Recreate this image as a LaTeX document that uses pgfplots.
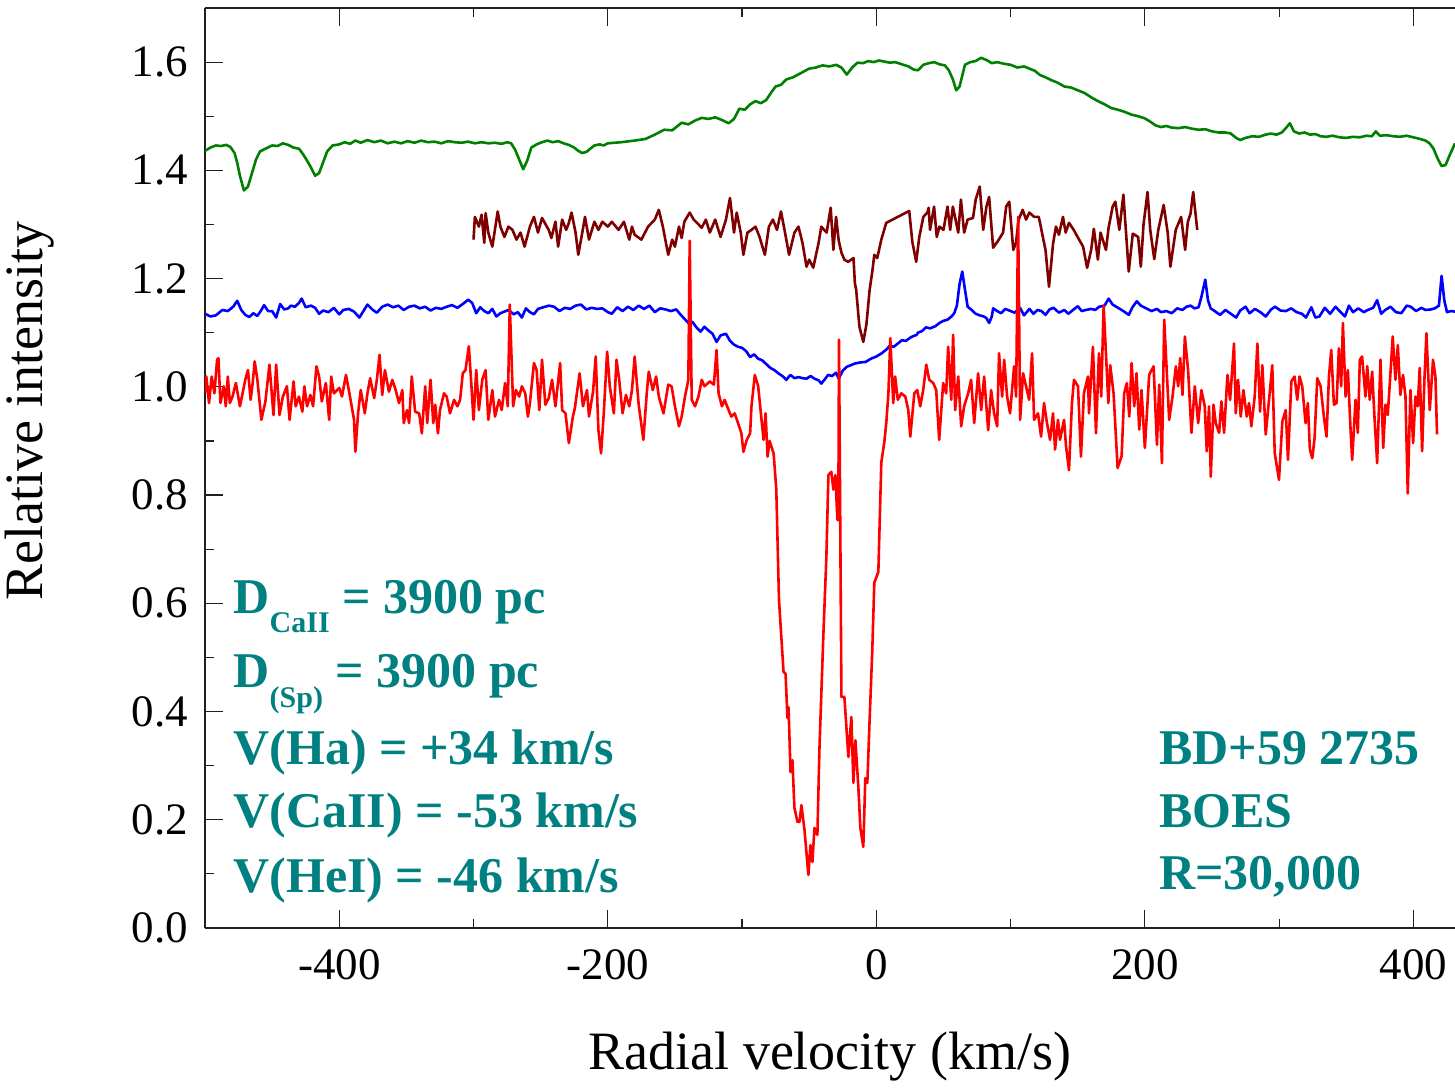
\documentclass[border=0pt]{standalone}
\usepackage{fontspec}
\setmainfont{Liberation Serif}
\usepackage{pgfplots}
\pgfplotsset{compat=1.18}
\definecolor{tealc}{RGB}{0,128,128}
\definecolor{dgreen}{RGB}{0,128,0}
\definecolor{dbrown}{RGB}{128,0,0}
\definecolor{axgray}{RGB}{32,32,32}
\begin{document}
\begin{tikzpicture}
\begin{axis}[
  at={(0pt,0pt)}, anchor=south west,
  scale only axis, width=625pt, height=460pt,
  xmin=-500, xmax=431, ymin=0, ymax=1.7,
  axis x line*=box, axis y line*=left,
  axis line style={axgray, line width=1pt},
  tick align=inside,
  major tick length=9pt, minor tick length=4.5pt,
  every tick/.style={axgray, line width=0.6pt},
  xtick={-400,-200,0,200,400},
  xticklabels={-400,-200,0,200,400},
  minor xtick={-300,-100,100,300},
  ytick={0,0.2,0.4,0.6,0.8,1.0,1.2,1.4,1.6},
  yticklabels={0.0,0.2,0.4,0.6,0.8,1.0,1.2,1.4,1.6},
  minor ytick={0.1,0.3,0.5,0.7,0.9,1.1,1.3,1.5},
  ticklabel style={font=\fontsize{22.5}{22.5}\selectfont},
  xticklabel style={yshift=-7pt},
  yticklabel style={xshift=-5pt},
  xlabel={Radial velocity (km/s)},
  ylabel={Relative intensity},
  label style={font=\fontsize{27}{27}\selectfont},
  xlabel style={at={(rel axis cs:0.5,-0.14)}, anchor=center},
  ylabel style={at={(rel axis cs:-0.14,0.562)}, anchor=center},
  no markers,
  every axis plot/.append style={line width=1.3pt, line join=round},
  clip=true,
]
% green
\addplot[dgreen] coordinates {
(-500,1.436) (-496,1.442) (-492,1.446) (-488,1.445) (-484,1.447) (-481,1.443) (-478,1.432) (-476,1.414) (-474,1.390) (-471,1.363) (-468,1.370) (-465,1.395) (-462,1.420) (-459,1.435) (-455,1.440) (-450,1.446) (-446,1.445) (-442,1.450) (-438,1.447) (-434,1.442) (-430,1.440) (-427,1.430) (-424,1.418) (-421,1.405) (-418,1.390) (-415,1.395) (-412,1.415) (-409,1.435) (-405,1.446) (-400,1.448) (-396,1.452) (-392,1.449) (-388,1.455) (-384,1.451) (-379,1.456) (-374,1.452) (-369,1.455) (-364,1.450) (-359,1.453) (-354,1.450) (-349,1.454) (-344,1.451) (-339,1.455) (-334,1.452) (-329,1.453) (-324,1.450) (-319,1.454) (-314,1.452) (-309,1.451) (-304,1.453) (-299,1.450) (-294,1.452) (-289,1.450) (-284,1.451) (-279,1.449) (-275,1.452) (-272,1.450) (-269,1.438) (-266,1.420) (-263,1.402) (-260,1.418) (-257,1.442) (-253,1.448) (-249,1.452) (-245,1.455) (-241,1.452) (-237,1.454) (-233,1.450) (-229,1.447) (-225,1.442) (-222,1.436) (-219,1.432) (-216,1.434) (-213,1.440) (-210,1.446) (-206,1.448) (-203,1.446)
(-200,1.450) (-190,1.452) (-180,1.455) (-172,1.458) (-165,1.466) (-158,1.475) (-152,1.474) (-145,1.488) (-140,1.485) (-135,1.492) (-130,1.497) (-125,1.495) (-120,1.498) (-115,1.493) (-110,1.487) (-106,1.495) (-102,1.514) (-98,1.512) (-94,1.522) (-90,1.528) (-86,1.524) (-82,1.530) (-78,1.545) (-75,1.555) (-71,1.558) (-67,1.568) (-62,1.572) (-56,1.580) (-50,1.588) (-45,1.590) (-40,1.594) (-35,1.592) (-30,1.595) (-26,1.590) (-22,1.577) (-18,1.590) (-14,1.599) (-10,1.598) (-6,1.602) (-2,1.600) (2,1.603) (6,1.601) (10,1.599) (14,1.600) (19,1.596) (24,1.592) (28,1.586) (31,1.585) (35,1.595) (39,1.598) (43,1.600) (47,1.596) (51,1.594) (54,1.585) (57,1.568) (59.5,1.548) (62,1.555) (64,1.575) (66,1.595) (70,1.600) (74,1.602) (78,1.608) (82,1.604) (86,1.598) (90,1.600) (95,1.597) (100,1.595) (105,1.590) (110,1.592) (114,1.588) (118,1.584) (122,1.576) (126,1.572) (130,1.567) (135,1.562) (140,1.555) (145,1.553) (150,1.548) (155,1.543) (160,1.535) (165,1.528) (170,1.522) (175,1.515) (180,1.512) (185,1.508) (190,1.503) (195,1.500) (200,1.496) (204,1.490) (208,1.483) (212,1.480) (216,1.482) (220,1.479) (225,1.478) (230,1.480) (235,1.477) (240,1.475) (245,1.476) (250,1.472) (255,1.470) (260,1.470) (264,1.468) (268,1.460) (271,1.456) (275,1.460) (280,1.463) (285,1.462) (290,1.466) (294,1.468) (298,1.466) (302,1.470) (305,1.478) (308,1.487) (311,1.472) (315,1.468) (319,1.470) (323,1.466) (327,1.467) (331,1.463) (335,1.462) (340,1.464) (345,1.461) (350,1.460) (355,1.462) (360,1.461) (365,1.464) (369,1.463) (372,1.472) (375,1.464) (380,1.465) (385,1.463) (390,1.462) (395,1.464) (400,1.461) (405,1.458) (409,1.455) (412,1.450) (415,1.440) (418,1.422) (421,1.408) (424,1.410) (427,1.428) (431,1.450)
};
% brown
\addplot[dbrown] coordinates {
(-300,1.272) (-299,1.314) (-296,1.296) (-294,1.318) (-292,1.266) (-291,1.321) (-289,1.285) (-286,1.259) (-282,1.324) (-280,1.296) (-277,1.277) (-274,1.296) (-271,1.290) (-268,1.272) (-265,1.285) (-262,1.259) (-258,1.296) (-255,1.314) (-252,1.285) (-249,1.312) (-244,1.290) (-242,1.275) (-239,1.305) (-237,1.259) (-234,1.309) (-231,1.290) (-229,1.303) (-227,1.322) (-224,1.285) (-222,1.244) (-219,1.285) (-217,1.314) (-214,1.272) (-210,1.305) (-207,1.290) (-204,1.305) (-200,1.296) (-197,1.305) (-192,1.290) (-188,1.305) (-184,1.272) (-182,1.296) (-180,1.281) (-175,1.272) (-170,1.296) (-165,1.309) (-162,1.327) (-159,1.296) (-155,1.244) (-152,1.272) (-150,1.259) (-147,1.296) (-145,1.275) (-143,1.305) (-139,1.322) (-136,1.309) (-130,1.294) (-127,1.309) (-124,1.285) (-120,1.309) (-116,1.277) (-112,1.309) (-109,1.349) (-106,1.285) (-104,1.322) (-101,1.285) (-99,1.244) (-96,1.285) (-93,1.290) (-90,1.296) (-87,1.277) (-83,1.244) (-80,1.296) (-77,1.309) (-74,1.290) (-71,1.324) (-68,1.285) (-65,1.244) (-61,1.285) (-58,1.296) (-55,1.266) (-52,1.222) (-50,1.235) (-47,1.220) (-43,1.266) (-41,1.296) (-37,1.285) (-34,1.331) (-32,1.253) (-30,1.314) (-28,1.270) (-26,1.248) (-23.8,1.235) (-21,1.231) (-17,1.238) (-16,1.192) (-15,1.179) (-12.6,1.111) (-9.7,1.083) (-7.4,1.115) (-5,1.179) (-3,1.213) (-1.5,1.244) (0.7,1.238) (3.7,1.272) (7.4,1.303) (24.5,1.325) (26.8,1.268) (29.7,1.231) (32,1.277) (35,1.314) (38,1.322) (39,1.331) (40,1.290) (43,1.333) (45,1.277) (47,1.296) (50,1.290) (53,1.333) (55,1.290) (57,1.333) (61,1.285) (63,1.346) (65.4,1.285) (68,1.309) (72,1.312) (74,1.346) (77,1.370) (79.6,1.290) (82,1.333) (84,1.351) (87,1.257) (90.7,1.270) (94.4,1.285) (96.7,1.333) (99,1.342) (102,1.253) (104,1.266) (106,1.309) (109,1.327) (111.5,1.309) (114,1.322) (117.5,1.314) (121,1.314) (124,1.277) (126,1.253) (128.6,1.185) (131.6,1.264) (133.8,1.296) (136,1.281) (139,1.314) (141,1.285) (143.5,1.303) (147,1.290) (151,1.272) (154,1.259) (157,1.220) (160,1.253) (162,1.292) (165,1.235) (167,1.285) (171,1.253) (173,1.294) (176,1.333) (178,1.342) (181,1.290) (184,1.355) (188,1.213) (191,1.283) (195,1.277) (197,1.222) (199,1.300) (202,1.360) (204,1.290) (207,1.236) (210,1.290) (214,1.336) (217,1.285) (219,1.222) (223,1.290) (227,1.314) (230,1.253) (232,1.305) (234,1.320) (236,1.360) (239,1.290)
};
% blue
\addplot[blue] coordinates {
(-500,1.135) (-496,1.130) (-492,1.132) (-487,1.142) (-483,1.140) (-479,1.148) (-476,1.159) (-473,1.142) (-470,1.133) (-467,1.129) (-464,1.136) (-461,1.131) (-458,1.142) (-456,1.151) (-453,1.140) (-450,1.140) (-447,1.128) (-444,1.153) (-441,1.143) (-438,1.145) (-436,1.150) (-433,1.148) (-430,1.155) (-428,1.163) (-425,1.147) (-421,1.150) (-418,1.146) (-415,1.135) (-412,1.141) (-408,1.138) (-404,1.146) (-400,1.134) (-397,1.142) (-393,1.144) (-389,1.139) (-385,1.128) (-382,1.140) (-379,1.152) (-375,1.142) (-372,1.137) (-368,1.148) (-364,1.152) (-360,1.147) (-356,1.150) (-352,1.142) (-348,1.148) (-344,1.150) (-340,1.145) (-336,1.148) (-332,1.141) (-328,1.146) (-324,1.144) (-320,1.148) (-316,1.151) (-312,1.146) (-308,1.153) (-304,1.161) (-301,1.155) (-298,1.136) (-295,1.147) (-292,1.140) (-289,1.136) (-286,1.144) (-283,1.130) (-280,1.136) (-277,1.139) (-274,1.142) (-270,1.134) (-267,1.138) (-264,1.128) (-261,1.145) (-258,1.138) (-255,1.134) (-252,1.144) (-248,1.147) (-244,1.150) (-240,1.148) (-236,1.140) (-232,1.146) (-228,1.144) (-224,1.150) (-220,1.152) (-216,1.143) (-212,1.146) (-208,1.144) (-204,1.145) (-200,1.138) (-197,1.135) (-193,1.147) (-189,1.140) (-185,1.148) (-181,1.142) (-177,1.150) (-173,1.144) (-169,1.150) (-165,1.138) (-161,1.145) (-157,1.143) (-153,1.140) (-149,1.143) (-146,1.134) (-143,1.126) (-140,1.118) (-137,1.120) (-134,1.110) (-131,1.102) (-128,1.111) (-125,1.104) (-122,1.098) (-119,1.083) (-116,1.095) (-112,1.098) (-109,1.085) (-106,1.078) (-103,1.074) (-100,1.072) (-97,1.066) (-94,1.055) (-91,1.060) (-88,1.052) (-85,1.049) (-82,1.042) (-79,1.035) (-76,1.031) (-73,1.025) (-70,1.020) (-67,1.013) (-64,1.022) (-61,1.016) (-58,1.018) (-55,1.016) (-52,1.015) (-49,1.020) (-46,1.015) (-43,1.012) (-41,1.006) (-38,1.015) (-36,1.022) (-33,1.020) (-30,1.026) (-28,1.015) (-25,1.030) (-22,1.037) (-19,1.040) (-16,1.043) (-12,1.045) (-8,1.046) (-4,1.052) (0,1.056) (4,1.062) (8,1.070) (10,1.076) (13,1.074) (16,1.080) (19,1.086) (22,1.085) (26,1.092) (30,1.096) (31,1.100) (34,1.103) (37,1.110) (40,1.108) (44,1.112) (47,1.118) (50,1.122) (53,1.124) (56,1.130) (58,1.136) (60,1.150) (62,1.190) (64,1.213) (66,1.180) (68,1.148) (71,1.142) (74,1.135) (77,1.132) (80,1.130) (82,1.127) (84,1.118) (86,1.130) (87,1.145) (90,1.140) (93,1.136) (96,1.144) (100,1.140) (103,1.137) (107,1.146) (110,1.132) (114,1.144) (117,1.135) (120,1.142) (123,1.140) (126,1.133) (129,1.143) (132,1.146) (136,1.137) (140,1.142) (143,1.135) (146,1.141) (150,1.149) (153,1.140) (156,1.142) (160,1.144) (163,1.142) (166,1.148) (170,1.150) (173,1.163) (176,1.152) (180,1.146) (184,1.140) (188,1.133) (191,1.148) (194,1.158) (197,1.150) (201,1.145) (205,1.140) (209,1.144) (212,1.138) (216,1.140) (220,1.136) (224,1.145) (228,1.142) (231,1.148) (234,1.150) (237,1.145) (240,1.147) (242,1.165) (245,1.198) (247,1.160) (249,1.145) (252,1.140) (256,1.133) (260,1.142) (264,1.135) (268,1.128) (271,1.141) (275,1.148) (278,1.136) (282,1.144) (286,1.138) (290,1.130) (294,1.143) (297,1.148) (301,1.141) (305,1.140) (309,1.145) (313,1.138) (317,1.135) (320,1.128) (324,1.147) (327,1.128) (330,1.130) (334,1.146) (338,1.135) (342,1.148) (345,1.140) (349,1.130) (352,1.150) (355,1.138) (359,1.145) (363,1.138) (366,1.142) (370,1.146) (373,1.160) (376,1.135) (379,1.142) (383,1.148) (387,1.138) (391,1.136) (395,1.150) (398,1.148) (402,1.140) (406,1.146) (409,1.142) (413,1.143) (416,1.145) (419,1.150) (421,1.205) (423,1.160) (425,1.138) (428,1.140) (431,1.139)
};
% red
\addplot[red] coordinates {
(-500,0.990) (-499,1.019) (-497,0.970) (-495,1.019) (-493,0.988) (-491,1.050) (-490,1.053) (-488.5,0.970) (-486,1.001) (-484.5,0.964) (-483,1.019) (-481.5,0.970) (-479.5,0.982) (-477,1.007) (-474,0.964) (-472,0.988) (-470,1.013) (-468,1.031) (-466,0.976) (-464.5,1.007) (-463,1.047) (-461,1.013) (-458,0.939) (-455,0.973) (-452,1.041) (-449,0.948) (-447,1.041) (-444.5,0.948) (-442,0.982) (-439,1.001) (-437,0.939) (-434,1.010) (-432.5,0.964) (-430,0.982) (-427.5,0.954) (-426,1.001) (-424,0.964) (-421.5,0.985) (-419.5,0.964) (-417,1.038) (-415,1.019) (-413,0.973) (-410,1.007) (-407.5,0.939) (-406,1.019) (-404,0.988) (-400,0.998) (-398,0.982) (-395,1.022) (-392,0.982) (-389,0.939) (-388,0.880) (-386,0.951) (-384,0.994) (-381,0.951) (-379,0.988) (-377,1.016) (-374,0.979) (-372,1.013) (-370,1.059) (-368,0.985) (-366,1.031) (-363,0.991) (-360.5,1.013) (-358,0.994) (-355.5,0.970) (-353,0.994) (-352,0.933) (-349.5,0.957) (-348,0.933) (-346,1.019) (-343.5,0.954) (-340.5,0.951) (-338.5,0.914) (-336,1.001) (-334.5,0.933) (-332,1.013) (-330,0.933) (-328.5,0.967) (-326.5,0.914) (-325,0.957) (-322,0.988) (-320,0.982) (-317.5,0.951) (-314.5,0.976) (-312,0.964) (-310,0.976) (-308,1.025) (-306,1.031) (-303.5,1.075) (-302,1.019) (-300,0.939) (-298,1.031) (-296,0.957) (-293.5,1.013) (-291,1.031) (-289,0.939) (-286,0.994) (-284,0.945) (-281,0.976) (-279,0.957) (-276.5,1.007) (-274.5,0.964) (-273,1.152) (-270.5,0.964) (-268.5,0.994) (-266,0.982) (-264,1.001) (-261.5,0.988) (-259.5,0.945) (-258,0.970) (-255,1.044) (-253,1.031) (-251,0.957) (-249,1.050) (-246.5,0.967) (-244,0.979) (-241.5,1.013) (-239,0.964) (-235.5,1.044) (-234,0.957) (-231.5,0.951) (-229,0.896) (-226,0.945) (-224.5,0.961) (-221,1.025) (-218.5,0.964) (-215.5,0.994) (-214,0.945) (-211,0.991) (-209,1.056) (-207,0.920) (-205,0.877) (-203,0.951) (-200.5,1.065) (-198.5,1.001) (-195.5,0.951) (-193.5,1.050) (-191.5,1.013) (-189,0.951) (-186.5,0.985) (-184,0.964) (-182,0.994) (-180,1.056) (-177,0.967) (-173.5,0.902) (-171,0.988) (-169.5,1.028) (-166.5,0.994) (-164,1.019) (-162,0.982) (-158.5,0.951) (-155,1.004) (-152.5,1.001) (-150,0.964) (-147,0.927) (-145,0.945) (-142.5,0.982) (-140,1.013) (-139,1.270) (-137.5,0.976) (-135,0.964) (-132.5,0.982) (-130,1.013) (-128,1.001) (-124,1.010) (-121,1.004) (-119,1.068) (-117.5,0.988) (-115,0.964) (-113,0.976) (-110,0.957) (-108,0.945) (-105.5,0.951) (-103,0.933) (-100.5,0.914) (-99,0.880) (-96.5,0.902) (-94,0.914) (-93,0.964) (-90.5,1.022) (-88,1.001) (-85.5,0.939) (-84,0.902) (-82.5,0.951) (-81,0.871) (-79.5,0.900) (-76.5,0.877) (-74.5,0.810) (-72.5,0.606) (-69.1,0.473) (-67.6,0.470) (-66.2,0.388) (-65.4,0.408) (-63.9,0.288) (-62.5,0.310) (-61.0,0.222) (-58.7,0.196) (-57.2,0.196) (-55.8,0.227) (-53.5,0.181) (-50.6,0.098) (-49.1,0.153) (-47.6,0.122) (-46.1,0.185) (-43.9,0.172) (-42.4,0.329) (-39.4,0.545) (-37.2,0.686) (-35.7,0.837) (-33.5,0.843) (-32.0,0.810) (-30.5,0.837) (-29.0,0.754) (-28.3,0.754) (-27.8,1.087) (-26.0,0.427) (-23.8,0.427) (-20.8,0.316) (-18.6,0.390) (-17.1,0.268) (-15.6,0.347) (-13.4,0.261) (-11.9,0.185) (-9.7,0.150) (-8.2,0.277) (-6.7,0.268) (-5.2,0.372) (-3.0,0.514) (-1.5,0.638) (1.5,0.658) (3.7,0.860) (5.9,0.897) (7.4,0.933) (9.0,0.988) (10.4,1.090) (12.6,0.970) (14.0,1.019) (16.0,0.976) (18.6,0.988) (21.6,0.982) (23.8,0.957) (25.3,0.908) (28.3,0.988) (30.5,0.994) (32.7,0.964) (34.9,0.994) (37.2,1.041) (39.4,1.013) (42.4,1.007) (44.6,0.994) (46.8,0.902) (49.8,1.007) (52.0,0.988) (53.5,1.074) (55.8,0.976) (57.2,1.096) (58.7,0.957) (61.0,1.019) (63.2,0.927) (65.4,0.964) (68.4,0.988) (70.6,1.013) (72.9,0.933) (75.8,1.025) (78.1,0.957) (80.3,1.019) (83.3,0.920) (85.5,0.994) (87.7,0.951) (90.0,0.927) (91.4,1.062) (93.7,0.982) (95.2,1.050) (97.4,0.982) (99.6,0.951) (102.6,1.038) (104.1,0.982) (105.6,1.314) (107.1,0.939) (109.3,1.025) (111.5,1.001) (113.8,0.976) (116.0,1.062) (117.5,0.939) (120.4,0.951) (122.7,0.908) (124.9,0.970) (127.1,0.933) (129.4,0.902) (131.6,0.951) (133.1,0.884) (135.3,0.939) (136.8,0.902) (139.8,0.939) (141.3,0.890) (143.5,0.846) (145.7,0.970) (147.2,1.013) (150.2,1.001) (152.4,0.871) (154.6,0.988) (157.6,1.019) (158.4,0.951) (161.3,1.074) (163.6,0.914) (165.8,1.062) (167.5,0.982) (169.3,1.150) (172.8,0.970) (174.2,1.040) (176.7,0.988) (179.7,0.850) (182.7,0.872) (184.6,0.988) (186.6,1.007) (188.4,0.945) (190.1,1.044) (192.1,0.964) (193.8,1.025) (195.8,0.921) (197.5,0.994) (200.0,0.887) (203.2,1.022) (206.5,1.038) (209.0,0.893) (210.7,1.004) (212.7,0.859) (214.4,1.124) (218.1,0.939) (220.6,0.982) (223.1,1.038) (224.8,1.001) (226.3,1.053) (228.0,0.985) (229.8,1.093) (232.2,1.031) (234.7,0.915) (237.2,1.001) (239.7,0.933) (242.1,0.994) (244.6,0.964) (246.1,0.881) (247.8,0.964) (249.1,0.834) (251.1,0.967) (252.8,0.933) (255.3,0.915) (257.0,0.973) (259.0,0.915) (261.5,1.022) (263.5,0.976) (266.4,1.080) (267.7,0.951) (269.4,1.013) (271.4,0.945) (273.4,0.994) (275.9,0.945) (277.6,0.970) (279.3,0.927) (281.8,0.982) (283.8,1.080) (285.8,0.954) (287.5,1.040) (290.0,0.912) (292.5,0.976) (294.9,1.040) (296.7,0.878) (299.9,0.828) (302.4,0.936) (304.9,0.957) (306.6,0.865) (309.1,1.010) (311.5,1.019) (313.5,0.976) (315.2,1.019) (317.2,1.001) (319.7,0.933) (321.4,0.970) (322.9,0.884) (324.7,0.868) (326.4,0.905) (328.4,1.016) (330.9,1.001) (333.3,0.945) (335.3,0.908) (337.1,1.019) (338.8,1.068) (340.8,0.967) (342.8,0.970) (344.5,1.071) (346.2,1.001) (347.5,1.118) (349.5,0.982) (351.2,1.031) (353.2,0.921) (354.4,0.865) (356.9,0.976) (358.6,0.915) (360.1,1.050) (361.8,1.056) (364.3,0.982) (365.6,1.038) (367.5,0.976) (369.3,1.028) (371.0,0.945) (373.0,0.859) (375.5,1.050) (377.5,0.887) (379.2,0.967) (380.9,0.948) (382.9,1.025) (384.6,1.093) (386.6,1.013) (388.4,1.077) (390.3,0.985) (392.3,1.022) (394.1,0.982) (395.8,0.803) (397.8,0.994) (399.8,0.896) (401.5,0.982) (403.2,0.964) (404.7,1.035) (406.5,0.881) (408.2,1.013) (409.7,1.099) (412.2,0.957) (414.6,1.050) (416.4,1.019) (417.6,0.912)
};
\begin{scope}[every node/.style={anchor=base west, text=tealc, inner sep=0pt, font=\bfseries\fontsize{25}{25}\selectfont}]
\node at (axis cs:-479,0.582) {D\raisebox{-9.5pt}{\fontsize{15}{15}\selectfont CaII} = 3900 pc};
\node at (axis cs:-479,0.4436) {D\raisebox{-10pt}{\fontsize{15}{15}\selectfont (Sp)} = 3900 pc};
\node at (axis cs:-479,0.3013) {V(Ha) = +34 km/s};
\node at (axis cs:-479,0.1848) {V(CaII) = -53 km/s};
\node at (axis cs:-479,0.0665) {V(HeI) = -46 km/s};
\node at (axis cs:210.4,0.3013) {BD+59 2735};
\node at (axis cs:210.4,0.1848) {BOES};
\node at (axis cs:210.4,0.072) {R=30,000};
\end{scope}
\end{axis}
\pgfresetboundingbox
\path (-102.5pt,-80pt) rectangle (625pt,464pt);
\end{tikzpicture}
\end{document}
